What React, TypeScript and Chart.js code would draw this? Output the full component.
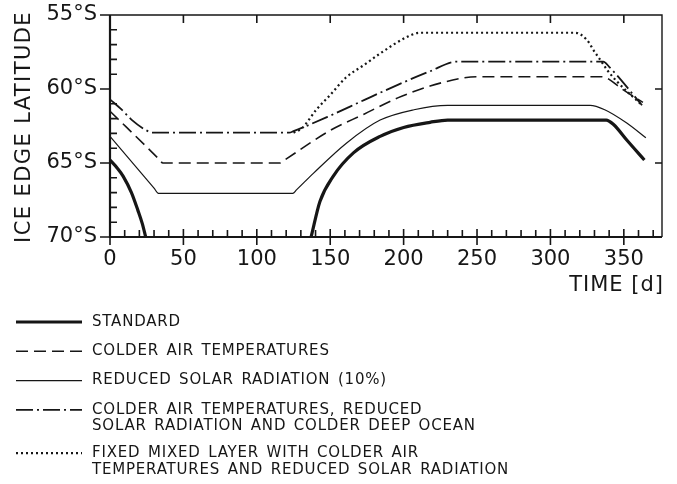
import React, { useEffect, useRef } from 'react';
import { Chart, registerables } from 'chart.js';

Chart.register(...registerables);

const INK = '#161616';
const FONT = "'DejaVu Sans', sans-serif";

// ---- axis ticks ----
const xTickStep = 50;
const xMinorStep = 10;
const yTickStep = 5;
const yMinorStep = 1;
const X_MIN = 0;
const X_MAX = 376;
const Y_MIN = 55;
const Y_MAX = 70;

// ---- series data (day of year, ice edge latitude in °S) ----
const standardDays = [0, 5, 9, 14.6, 19, 22, 24.3, 80, 137, 143, 152, 166, 184, 200, 218, 230, 338, 343, 352, 364];
const standardLat = [64.8, 65.35, 65.9, 67.0, 68.2, 69.1, 70, null, 70, 67.6, 65.9, 64.3, 63.2, 62.6, 62.25, 62.1, 62.1, 62.4, 63.45, 64.8];

const colderDays = [0, 33, 36, 116, 119, 150, 173, 196, 218, 241, 250, 335, 340, 348, 363];
const colderLat = [61.5, 64.7, 65.0, 65.0, 64.8, 62.8, 61.7, 60.6, 59.8, 59.25, 59.17, 59.17, 59.35, 59.95, 60.9];

const solarDays = [0, 30, 33, 124.5, 127, 138.5, 161, 184, 207, 230, 327, 337, 352, 365];
const solarLat = [63.2, 66.7, 67.05, 67.05, 66.82, 65.7, 63.66, 62.1, 61.4, 61.1, 61.1, 61.4, 62.3, 63.3];

const combinedDays = [0, 8, 15, 24, 29, 122, 125, 150, 173, 196, 218, 236, 336, 340, 362.4];
const combinedLat = [60.7, 61.4, 62.1, 62.75, 62.95, 62.95, 62.85, 61.8, 60.75, 59.72, 58.8, 58.15, 58.15, 58.5, 61.1];

const fixedDays = [125, 130.7, 140.5, 150, 161, 172.7, 184, 202, 211, 317, 325, 329.5, 334, 338.5, 345.4, 362.4];
const fixedLat = [62.95, 62.66, 61.4, 60.4, 59.2, 58.4, 57.6, 56.5, 56.2, 56.2, 56.7, 57.4, 58.04, 58.7, 59.5, 61.1];

const seriesLabels: string[][] = [
  ['STANDARD'],
  ['COLDER AIR TEMPERATURES'],
  ['REDUCED SOLAR RADIATION (10%)'],
  ['COLDER AIR TEMPERATURES, REDUCED', 'SOLAR RADIATION AND COLDER DEEP OCEAN'],
  ['FIXED MIXED LAYER WITH COLDER AIR', 'TEMPERATURES AND REDUCED SOLAR RADIATION'],
];

const xTitle = 'TIME [d]';
const yTitle = 'ICE EDGE LATITUDE';

function pts(days: number[], lat: (number | null)[]) {
  return days.map((d, i) => ({ x: d, y: lat[i] }));
}

const decorPlugin = {
  id: 'decor',
  afterDraw(chart: any) {
    const { ctx, chartArea: a, scales } = chart;
    const x = scales.x;
    const y = scales.y;
    ctx.save();
    ctx.strokeStyle = INK;
    ctx.fillStyle = INK;
    ctx.setLineDash([]);
    ctx.lineCap = 'butt';

    // frame
    ctx.lineWidth = 1.4;
    ctx.beginPath();
    ctx.moveTo(a.left, a.top);
    ctx.lineTo(a.right, a.top);
    ctx.lineTo(a.right, a.bottom);
    ctx.stroke();
    ctx.lineWidth = 2.2;
    ctx.beginPath();
    ctx.moveTo(a.left, a.top);
    ctx.lineTo(a.left, a.bottom);
    ctx.lineTo(a.right, a.bottom);
    ctx.stroke();

    // x ticks
    ctx.lineWidth = 1.6;
    ctx.beginPath();
    for (let d = X_MIN; d < X_MAX; d += xMinorStep) {
      const px = x.getPixelForValue(d);
      const major = d % xTickStep === 0;
      if (major) {
        ctx.moveTo(px, a.bottom + 8);
        ctx.lineTo(px, a.bottom - 8);
        if (d > X_MIN) {
          ctx.moveTo(px, a.top);
          ctx.lineTo(px, a.top + 8);
        }
      } else {
        ctx.moveTo(px, a.bottom);
        ctx.lineTo(px, a.bottom - 7);
      }
    }
    // y ticks
    for (let v = Y_MIN; v <= Y_MAX; v += yMinorStep) {
      const py = y.getPixelForValue(v);
      const major = v % yTickStep === 0;
      if (major) {
        ctx.moveTo(a.left - 10, py);
        ctx.lineTo(a.left, py);
        if (v > Y_MIN && v < Y_MAX) {
          ctx.moveTo(a.right, py);
          ctx.lineTo(a.right - 7, py);
        }
      } else {
        ctx.moveTo(a.left, py);
        ctx.lineTo(a.left + 7, py);
      }
    }
    ctx.stroke();

    // axis titles
    ctx.font = `21px ${FONT}`;
    (ctx as any).letterSpacing = '1px';
    ctx.textBaseline = 'middle';
    ctx.textAlign = 'right';
    ctx.fillText(xTitle, a.right + 2, 286);

    ctx.save();
    ctx.translate(25, (a.top + a.bottom) / 2 + 1);
    ctx.rotate(-Math.PI / 2);
    ctx.textAlign = 'center';
    (ctx as any).letterSpacing = '1.4px';
    ctx.fillText(yTitle, 0, 0);
    ctx.restore();

    // legend
    ctx.font = `15px ${FONT}`;
    (ctx as any).letterSpacing = '0.8px';
    (ctx as any).wordSpacing = '2px';
    ctx.textAlign = 'left';
    let rowY = 322;
    chart.data.datasets.forEach((ds: any, i: number) => {
      const lines = seriesLabels[i];
      ctx.save();
      ctx.lineWidth = ds.borderWidth;
      ctx.setLineDash(ds.borderDash || []);
      ctx.beginPath();
      ctx.moveTo(16, rowY);
      ctx.lineTo(82, rowY);
      ctx.stroke();
      ctx.restore();
      lines.forEach((t, k) => ctx.fillText(t, 92, rowY + k * 16.7));
      rowY += 29.3 + (lines.length - 1) * 14;
    });
    ctx.restore();
  },
};

export default function App() {
  const ref = useRef<HTMLCanvasElement>(null);
  useEffect(() => {
    document.body.style.margin = '0';
    const common = {
      borderColor: INK,
      pointRadius: 0,
      fill: false,
      cubicInterpolationMode: 'monotone' as const,
      spanGaps: false,
    };
    const chart = new Chart(ref.current as HTMLCanvasElement, {
      type: 'line',
      data: {
        datasets: [
          { ...common, label: seriesLabels[0].join(' '), data: pts(standardDays, standardLat), borderWidth: 3.2 },
          { ...common, label: seriesLabels[1].join(' '), data: pts(colderDays, colderLat), borderWidth: 1.6, borderDash: [12, 6] },
          { ...common, label: seriesLabels[2].join(' '), data: pts(solarDays, solarLat), borderWidth: 1.2 },
          { ...common, label: seriesLabels[3].join(' '), data: pts(combinedDays, combinedLat), borderWidth: 1.8, borderDash: [17, 4, 2, 4] },
          { ...common, label: seriesLabels[4].join(' '), data: pts(fixedDays, fixedLat), borderWidth: 2.2, borderDash: [2, 3] },
        ] as any,
      },
      options: {
        animation: false,
        responsive: false,
        maintainAspectRatio: false,
        layout: { padding: { top: 15, right: 15, left: 0, bottom: 0 } },
        plugins: { legend: { display: false }, tooltip: { enabled: false } },
        scales: {
          x: {
            type: 'linear',
            min: X_MIN,
            max: X_MAX,
            afterFit: (s: any) => { s.height = 247; s.paddingLeft = 0; s.paddingRight = 0; },
            grid: { display: false, drawTicks: false, tickLength: 0 },
            border: { display: false },
            ticks: {
              stepSize: xTickStep,
              includeBounds: false,
              color: INK,
              font: { family: FONT, size: 21 },
              padding: 10,
              maxRotation: 0,
              autoSkip: false,
            },
          },
          y: {
            type: 'linear',
            reverse: true,
            min: Y_MIN,
            max: Y_MAX,
            afterFit: (s: any) => { s.width = 110; s.paddingTop = 0; s.paddingBottom = 0; },
            grid: { display: false, drawTicks: false, tickLength: 0 },
            border: { display: false },
            ticks: {
              stepSize: yTickStep,
              color: INK,
              font: { family: FONT, size: 21 },
              padding: 13,
              callback: (v: any) => `${v}°S`,
            },
          },
        },
      } as any,
      plugins: [decorPlugin],
    });
    return () => chart.destroy();
  }, []);
  return <canvas ref={ref} width={677} height={484} style={{ display: 'block', width: 677, height: 484 }} />;
}
